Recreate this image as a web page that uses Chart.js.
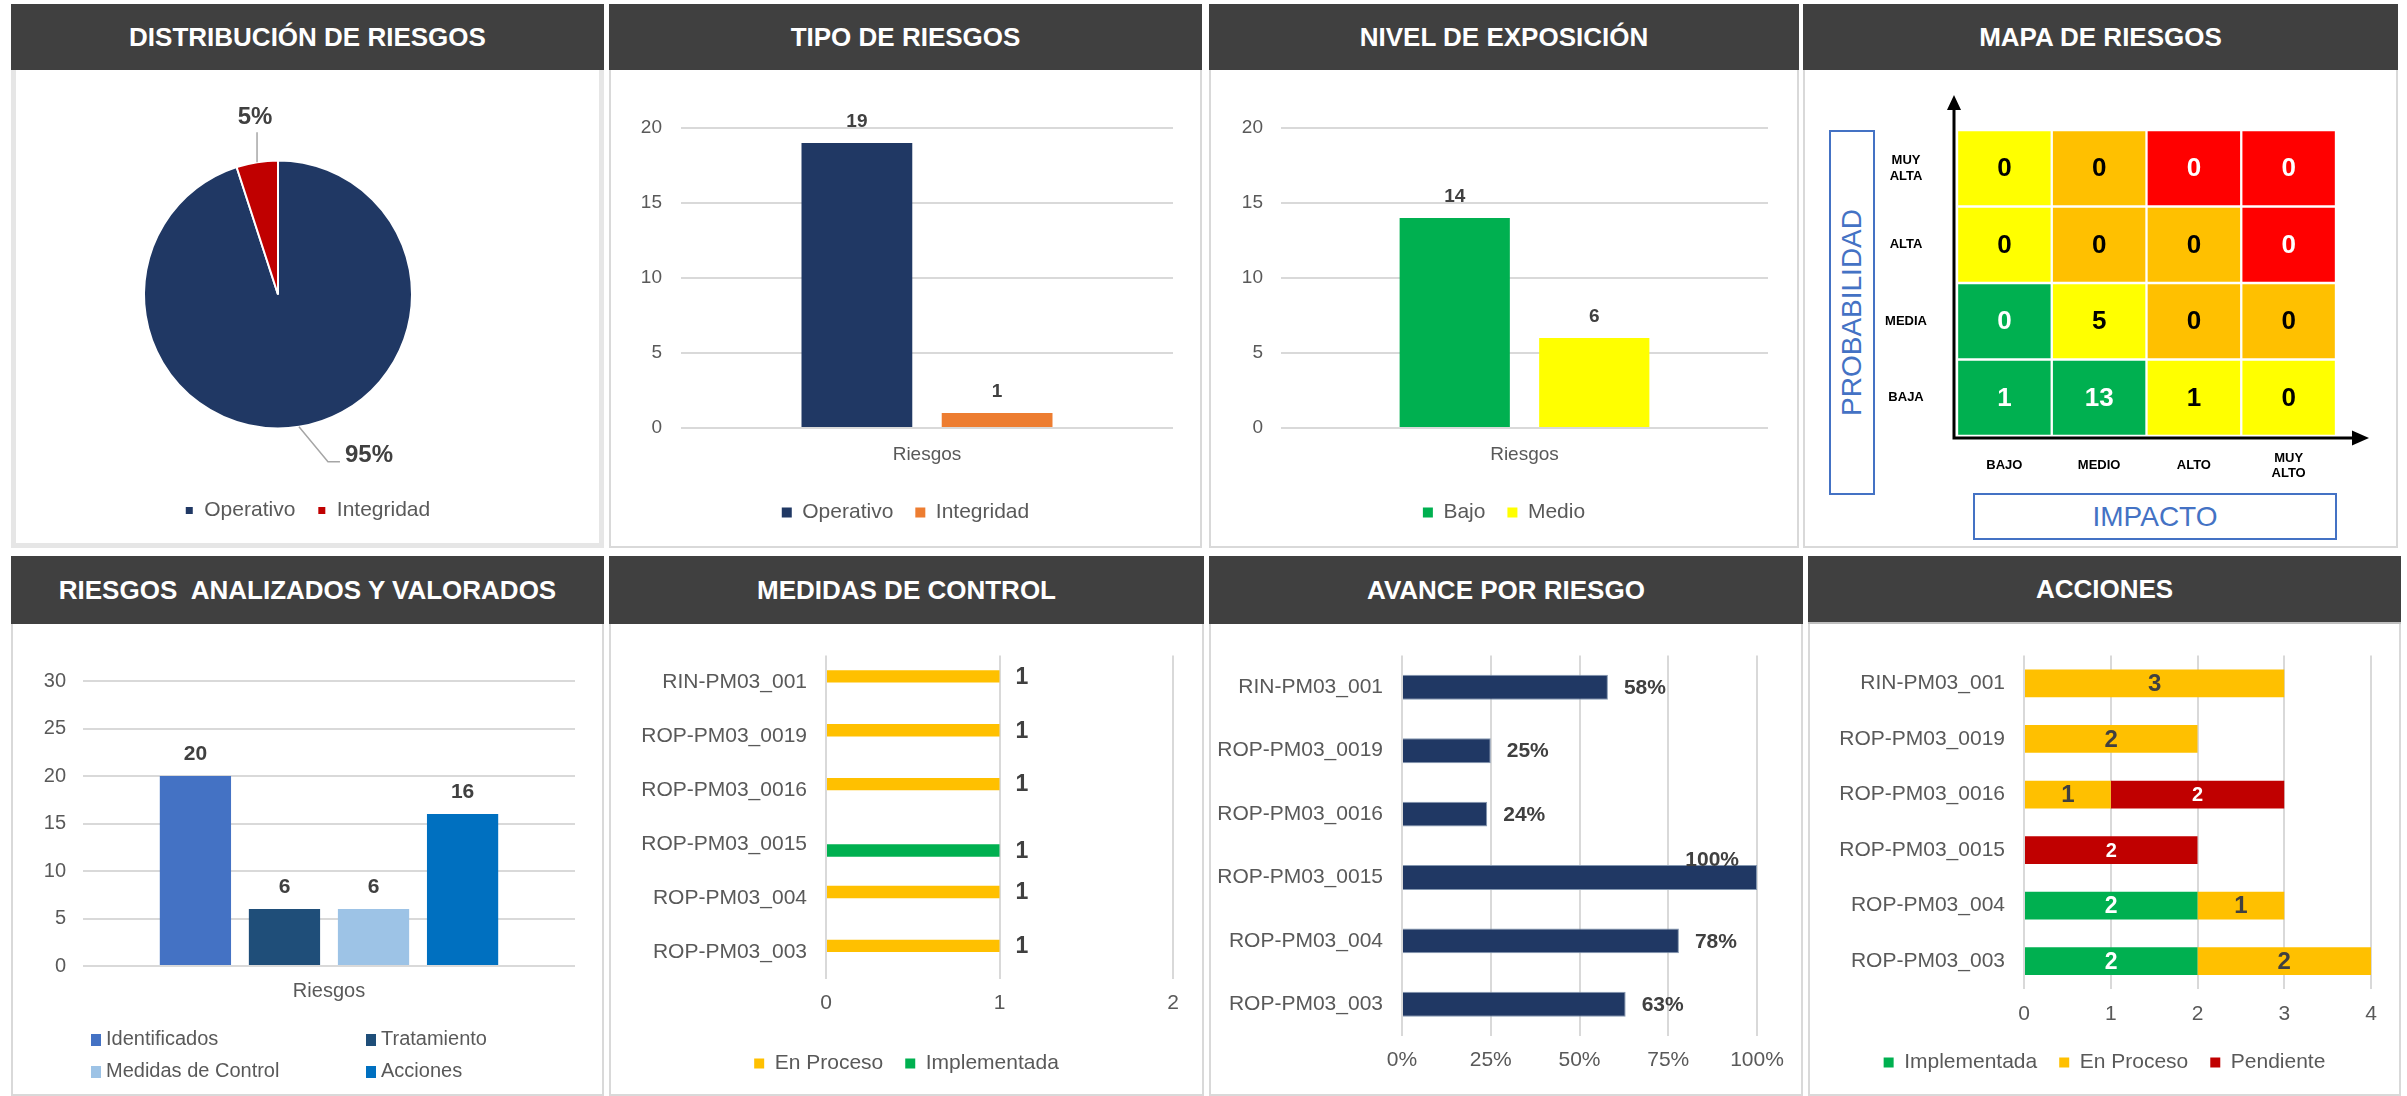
<!DOCTYPE html>
<html lang="es">
<head>
<meta charset="utf-8">
<title>Riesgos</title>
<script src="https://cdn.jsdelivr.net/npm/chart.js@4.4.1/dist/chart.umd.min.js"></script>
<style>
  html, body { margin: 0; padding: 0; }
  body { width: 2407px; height: 1096px; position: relative; overflow: hidden; background: #fff;
         font-family: "Liberation Sans", Arial, sans-serif; }
  .panel { position: absolute; }
  .head { position: absolute; left: 0; right: 0; top: 0; background: #404040; color: #fff; font-weight: bold;
          font-size: 26px; display: flex; align-items: center; justify-content: center; white-space: pre; }
  .panel canvas { position: absolute; left: 0; }
  .frame { position: absolute; left: 0; right: 0; bottom: 0; border: 2px solid #d9d9d9; border-top: none;
           box-sizing: border-box; pointer-events: none; }
  .top .head { height: 66px; }
  .top canvas, .top .frame { top: 66px; }
  .bot .head { height: 68px; }
  .bot canvas, .bot .frame { top: 68px; }
  .caja { position: absolute; border: 2px solid #4472C4; box-sizing: border-box; color: #4472C4; font-size: 28px;
          display: flex; align-items: center; justify-content: center; background: #fff; }
  .vertical { writing-mode: vertical-rl; transform: rotate(180deg); }
  .leyenda { position: absolute; display: grid; grid-template-columns: 275px auto; row-gap: 9px; font-size: 20px; color: #595959; }
  .leyenda span.m { display: inline-block; width: 10px; height: 12px; margin-right: 5px; vertical-align: -1px; }
</style>
</head>
<body>

<div class="panel top" style="left:11px; top:4px; width:593px; height:544px;">
  <div class="head">DISTRIBUCIÓN DE RIESGOS</div>
  <canvas id="cDistribucion" width="593" height="478"></canvas>
  <div class="frame" style="top:66px; border-width:5px; border-color:#e6e6e6;"></div>
</div>
<div class="panel top" style="left:609px; top:4px; width:593px; height:544px;">
  <div class="head">TIPO DE RIESGOS</div>
  <canvas id="cTipo" width="593" height="478"></canvas>
  <div class="frame"></div>
</div>
<div class="panel top" style="left:1209px; top:4px; width:590px; height:544px;">
  <div class="head">NIVEL DE EXPOSICIÓN</div>
  <canvas id="cNivel" width="590" height="478"></canvas>
  <div class="frame"></div>
</div>
<div class="panel top" style="left:1803px; top:4px; width:595px; height:544px;">
  <div class="head">MAPA DE RIESGOS</div>
  <canvas id="cMapa" width="595" height="478"></canvas>
  <div class="frame"></div>
  <div class="caja" style="left:26px; top:126px; width:46px; height:365px;"><span class="vertical">PROBABILIDAD</span></div>
  <div class="caja" style="left:170px; top:489px; width:364px; height:47px;">IMPACTO</div>
</div>

<div class="panel bot" style="left:11px; top:556px; width:593px; height:540px;">
  <div class="head">RIESGOS  ANALIZADOS Y VALORADOS</div>
  <canvas id="cAnalizados" width="593" height="472"></canvas>
  <div class="frame"></div>
  <div class="leyenda" id="leyAnalizados" style="left:80px; top:471px;"></div>
</div>
<div class="panel bot" style="left:609px; top:556px; width:595px; height:540px;">
  <div class="head">MEDIDAS DE CONTROL</div>
  <canvas id="cMedidas" width="595" height="472"></canvas>
  <div class="frame"></div>
</div>
<div class="panel bot" style="left:1209px; top:556px; width:594px; height:540px;">
  <div class="head">AVANCE POR RIESGO</div>
  <canvas id="cAvance" width="594" height="472"></canvas>
  <div class="frame"></div>
</div>
<div class="panel bot" style="left:1808px; top:556px; width:593px; height:540px;">
  <div class="head" style="border-bottom:2px solid #bfbfbf; box-sizing:border-box;">ACCIONES</div>
  <canvas id="cAcciones" width="593" height="472"></canvas>
  <div class="frame"></div>
</div>

<script>
// Distribución y tipo de riesgos
const tipos = ['Operativo', 'Integridad'];
const tiposConteo = [19, 1];

// Nivel de exposición
const niveles = ['Bajo', 'Medio'];
const nivelesConteo = [14, 6];

// Mapa de riesgos (columnas = impacto, filas = probabilidad)
const impactos = ['BAJO', 'MEDIO', 'ALTO', ['MUY', 'ALTO']];
const probabilidades = [['MUY', 'ALTA'], 'ALTA', 'MEDIA', 'BAJA'];
const mapaMuyAlta = [0, 0, 0, 0];
const mapaAlta = [0, 0, 0, 0];
const mapaMedia = [0, 5, 0, 0];
const mapaBaja = [1, 13, 1, 0];
const celdaUnidad = [1, 1, 1, 1];

// Riesgos analizados y valorados
const etapas = ['Identificados', 'Tratamiento', 'Medidas de Control', 'Acciones'];
const etapasConteo = [20, 6, 6, 16];

// Riesgos por código
const riesgos = ['RIN-PM03_001', 'ROP-PM03_0019', 'ROP-PM03_0016', 'ROP-PM03_0015', 'ROP-PM03_004', 'ROP-PM03_003'];
const medidasEnProceso = [1, 1, 1, null, 1, 1];
const medidasImplementada = [null, null, null, 1, null, null];
const avance = [58, 25, 24, 100, 78, 63];
const accImplementada = [0, 0, 0, 0, 2, 2];
const accEnProceso = [3, 2, 1, 0, 1, 2];
const accPendiente = [0, 0, 2, 2, 0, 0];

const FUENTE = '"Liberation Sans", Arial, sans-serif';
Chart.defaults.font.family = FUENTE;
Chart.defaults.color = '#595959';
Chart.defaults.animation = false;
Chart.defaults.responsive = false;
Chart.defaults.devicePixelRatio = 1;
Chart.defaults.plugins.tooltip.enabled = false;

const AZUL = '#203864', ROJO = '#C00000', NARANJA = '#ED7D31';
const VERDE = '#00B050', AMARILLO = '#FFFF00', AMBAR = '#FFC000', ROJO_VIVO = '#FF0000';
const GRID = '#d9d9d9';

// centra la leyenda en el lienzo completo
Chart.register({
    id: 'legendCentro',
    afterLayout(chart) {
        const lg = chart.legend;
        if (!lg || !lg.options.display) return;
        const dx = chart.width / 2 - (lg.left + lg.right) / 2;
        lg.left += dx;
        lg.right += dx;
    }
});

// etiquetas de valor sobre / junto / dentro de las barras
function etiquetas(cfg) {
    return {
        id: 'etiquetas',
        afterDatasetsDraw(chart) {
            const ctx = chart.ctx, area = chart.chartArea;
            ctx.save();
            chart.data.datasets.forEach((ds, di) => {
                const meta = chart.getDatasetMeta(di);
                ctx.font = 'bold ' + (ds.lblSize || cfg.size) + 'px ' + FUENTE;
                ctx.fillStyle = ds.lblColor || '#404040';
                meta.data.forEach((el, i) => {
                    const v = ds.data[i];
                    if (v === null || v === undefined || v === 0) return;
                    const txt = v + (cfg.suffix || '');
                    if (cfg.mode === 'top') {
                        ctx.textAlign = 'center';
                        ctx.textBaseline = 'alphabetic';
                        ctx.fillText(txt, el.x, el.y - cfg.offset);
                    } else if (cfg.mode === 'right') {
                        const w = ctx.measureText(txt).width;
                        if (el.x + cfg.offset + w > area.right + 4) {
                            ctx.textAlign = 'right';
                            ctx.textBaseline = 'alphabetic';
                            ctx.fillText(txt, el.x - 18, el.y - el.height / 2 + 1);
                        } else {
                            ctx.textAlign = 'left';
                            ctx.textBaseline = 'middle';
                            ctx.fillText(txt, el.x + cfg.offset, el.y + 1);
                        }
                    } else {
                        ctx.textAlign = 'center';
                        ctx.textBaseline = 'middle';
                        ctx.fillText(txt, (el.x + el.base) / 2, el.y + 1);
                    }
                });
            });
            ctx.restore();
        }
    };
}

function leyendaInferior(caja) {
    return {
        position: 'bottom',
        labels: { boxWidth: caja || 10, boxHeight: caja || 10, padding: 22, font: { size: 21 }, color: '#595959' }
    };
}

// --- Distribución de riesgos (pastel) ---
const pieGuias = {
    id: 'pieGuias',
    afterDatasetsDraw(chart) {
        const ctx = chart.ctx;
        const ds = chart.data.datasets[0];
        const total = ds.data.reduce((a, b) => a + b, 0);
        ctx.save();
        chart.getDatasetMeta(0).data.forEach((arc, i) => {
            const mid = (arc.startAngle + arc.endAngle) / 2;
            const px = arc.x + Math.cos(mid) * arc.outerRadius;
            const py = arc.y + Math.sin(mid) * arc.outerRadius;
            const g = ds.guias[i];
            ctx.strokeStyle = '#a6a6a6';
            ctx.lineWidth = 1.5;
            ctx.beginPath();
            ctx.moveTo(px, py);
            ctx.lineTo(px + g.codo[0], py + g.codo[1]);
            ctx.lineTo(px + g.fin[0], py + g.fin[1]);
            ctx.stroke();
            ctx.font = 'bold 24px ' + FUENTE;
            ctx.fillStyle = '#404040';
            ctx.textAlign = g.alinear;
            ctx.textBaseline = 'alphabetic';
            ctx.fillText(Math.round(ds.data[i] / total * 100) + '%', px + g.texto[0], py + g.texto[1]);
        });
        ctx.restore();
    }
};

new Chart(document.getElementById('cDistribucion'), {
    type: 'pie',
    data: {
        labels: tipos,
        datasets: [{
            data: tiposConteo,
            backgroundColor: [AZUL, ROJO],
            borderColor: '#fff',
            borderWidth: 2,
            radius: 134,
            guias: [
                { codo: [29, 35], fin: [41, 35], texto: [46, 35], alinear: 'left' },
                { codo: [0, -30], fin: [0, -30], texto: [-2, -38], alinear: 'center' }
            ]
        }]
    },
    options: {
        layout: { padding: { top: 41, right: 59, bottom: 17, left: 0 } },
        plugins: { legend: leyendaInferior(9) }
    },
    plugins: [pieGuias]
});

// --- columnas verticales ---
function barrasVerticales(id, nombres, valores, colores, opciones) {
    return new Chart(document.getElementById(id), {
        type: 'bar',
        data: {
            labels: ['Riesgos'],
            datasets: nombres.map((n, i) => ({ label: n, data: [valores[i]], backgroundColor: colores[i] }))
        },
        options: {
            datasets: { bar: { categoryPercentage: opciones.cp, barPercentage: opciones.bp } },
            layout: { padding: opciones.padding },
            scales: {
                x: {
                    grid: { display: false, drawTicks: false }, border: { display: false },
                    ticks: { font: { size: opciones.fuente }, padding: opciones.xPad },
                    afterFit: s => { s.height = opciones.xAlto; }
                },
                y: {
                    min: 0, max: opciones.max,
                    ticks: { stepSize: 5, font: { size: opciones.fuente }, padding: opciones.yPad },
                    grid: { color: GRID, lineWidth: 2, drawTicks: false },
                    border: { display: false },
                    afterFit: s => { s.width = 72; }
                }
            },
            plugins: { legend: opciones.leyenda }
        },
        plugins: [etiquetas({ mode: 'top', offset: 16, size: opciones.fuenteEtiqueta })]
    });
}

// Tipo de riesgos
barrasVerticales('cTipo', tipos, tiposConteo, [AZUL, NARANJA], {
    cp: 0.57, bp: 0.79, max: 20, fuente: 19, fuenteEtiqueta: 19, xPad: 15, xAlto: 52, yPad: 19,
    padding: { top: 58, right: 29, bottom: 15, left: 0 }, leyenda: leyendaInferior()
});

// Nivel de exposición
barrasVerticales('cNivel', niveles, nivelesConteo, [VERDE, AMARILLO], {
    cp: 0.573, bp: 0.79, max: 20, fuente: 19, fuenteEtiqueta: 19, xPad: 15, xAlto: 52, yPad: 18,
    padding: { top: 58, right: 31, bottom: 15, left: 0 }, leyenda: leyendaInferior()
});

// Riesgos analizados y valorados
const coloresEtapas = ['#4472C4', '#1F4E79', '#9DC3E6', '#0070C0'];
const chartAnalizados = barrasVerticales('cAnalizados', etapas, etapasConteo, coloresEtapas, {
    cp: 0.724, bp: 0.80, max: 30, fuente: 20, fuenteEtiqueta: 21, xPad: 13, xAlto: 50, yPad: 17,
    padding: { top: 57, right: 29, bottom: 80, left: 0 }, leyenda: { display: false }
});
const ley = document.getElementById('leyAnalizados');
chartAnalizados.data.datasets.forEach(ds => {
    const item = document.createElement('div');
    const marca = document.createElement('span');
    marca.className = 'm';
    marca.style.background = ds.backgroundColor;
    item.appendChild(marca);
    item.appendChild(document.createTextNode(ds.label));
    ley.appendChild(item);
});

// --- Mapa de riesgos ---
const mapaTextos = {
    id: 'mapaTextos',
    afterDatasetsDraw(chart) {
        const ctx = chart.ctx;
        ctx.save();
        ctx.font = 'bold 26px ' + FUENTE;
        ctx.textAlign = 'center';
        ctx.textBaseline = 'middle';
        chart.data.datasets.forEach((ds, di) => {
            chart.getDatasetMeta(di).data.forEach((el, i) => {
                ctx.fillStyle = ds.texto[i];
                ctx.fillText(String(ds.conteo[i]), el.x, (el.y + el.base) / 2 + 1);
            });
        });
        ctx.restore();
    }
};
const mapaFlechas = {
    id: 'mapaFlechas',
    afterDraw(chart) {
        const ctx = chart.ctx, a = chart.chartArea;
        const x0 = a.left - 3, y0 = a.bottom + 2;
        ctx.save();
        ctx.strokeStyle = '#000';
        ctx.fillStyle = '#000';
        ctx.lineWidth = 3;
        ctx.beginPath();
        ctx.moveTo(x0, y0);
        ctx.lineTo(x0, a.top - 22);
        ctx.moveTo(x0 - 1.5, y0);
        ctx.lineTo(a.right + 18, y0);
        ctx.stroke();
        ctx.beginPath();
        ctx.moveTo(x0, a.top - 35);
        ctx.lineTo(x0 - 7, a.top - 20);
        ctx.lineTo(x0 + 7, a.top - 20);
        ctx.closePath();
        ctx.fill();
        ctx.beginPath();
        ctx.moveTo(a.right + 33, y0);
        ctx.lineTo(a.right + 16, y0 - 7.5);
        ctx.lineTo(a.right + 16, y0 + 7.5);
        ctx.closePath();
        ctx.fill();
        ctx.restore();
    }
};
const filasMapa = [
    { label: 'BAJA', conteo: mapaBaja, backgroundColor: [VERDE, VERDE, AMARILLO, AMARILLO], texto: ['#fff', '#fff', '#000', '#000'] },
    { label: 'MEDIA', conteo: mapaMedia, backgroundColor: [VERDE, AMARILLO, AMBAR, AMBAR], texto: ['#fff', '#000', '#000', '#000'] },
    { label: 'ALTA', conteo: mapaAlta, backgroundColor: [AMARILLO, AMBAR, AMBAR, ROJO_VIVO], texto: ['#000', '#000', '#000', '#fff'] },
    { label: 'MUY ALTA', conteo: mapaMuyAlta, backgroundColor: [AMARILLO, AMBAR, ROJO_VIVO, ROJO_VIVO], texto: ['#000', '#000', '#fff', '#fff'] }
];
new Chart(document.getElementById('cMapa'), {
    type: 'bar',
    data: {
        labels: impactos,
        datasets: filasMapa.map(f => Object.assign({}, f, {
            data: celdaUnidad, yAxisID: 'y', borderColor: '#fff', borderWidth: 1.5, borderSkipped: false,
            barPercentage: 1, categoryPercentage: 1
        }))
    },
    options: {
        layout: { padding: { top: 60, right: 62, bottom: 52, left: 0 } },
        scales: {
            x: {
                stacked: true, grid: { display: false, drawTicks: false }, border: { display: false },
                ticks: { font: { size: 13, weight: 'bold' }, color: '#000', padding: 22, crossAlign: 'center', maxRotation: 0, autoSkip: false },
                afterFit: s => { s.height = 60; }
            },
            y: { stacked: true, display: false, min: 0, max: 4 },
            filas: {
                type: 'category', position: 'left', labels: probabilidades, offset: true,
                grid: { display: false, drawTicks: false }, border: { display: false },
                ticks: { font: { size: 13, weight: 'bold' }, color: '#000', padding: 30, crossAlign: 'center', autoSkip: false },
                afterFit: s => { s.width = 154; }
            }
        },
        plugins: { legend: { display: false } }
    },
    plugins: [mapaTextos, mapaFlechas]
});

// --- barras horizontales por riesgo ---
function ejeRiesgos(ancho) {
    return {
        grid: { display: false, drawTicks: false }, border: { display: false },
        ticks: { font: { size: 21 }, padding: 19, color: '#595959', autoSkip: false },
        afterFit: s => { s.width = ancho; }
    };
}

// Medidas de control
new Chart(document.getElementById('cMedidas'), {
    type: 'bar',
    data: {
        labels: riesgos,
        datasets: [
            { label: 'En Proceso', data: medidasEnProceso, backgroundColor: AMBAR, lblSize: 23 },
            { label: 'Implementada', data: medidasImplementada, backgroundColor: VERDE, lblSize: 23 }
        ]
    },
    options: {
        indexAxis: 'y',
        datasets: { bar: { categoryPercentage: 0.46, barPercentage: 1 } },
        layout: { padding: { top: 20, right: 31, bottom: 12, left: 0 } },
        scales: {
            x: {
                min: 0, max: 2,
                ticks: { stepSize: 1, font: { size: 21 }, padding: 12 },
                grid: { color: GRID, lineWidth: 2, drawTicks: false }, border: { display: false },
                afterFit: s => { s.height = 52; }
            },
            y: ejeRiesgos(217)
        },
        plugins: { legend: leyendaInferior() }
    },
    plugins: [etiquetas({ mode: 'right', offset: 16, size: 23 })]
});

// Avance por riesgo
new Chart(document.getElementById('cAvance'), {
    type: 'bar',
    data: {
        labels: riesgos,
        datasets: [{ label: 'Avance', data: avance, backgroundColor: AZUL, borderColor: '#8497b0', borderWidth: 1 }]
    },
    options: {
        indexAxis: 'y',
        datasets: { bar: { categoryPercentage: 0.8, barPercentage: 0.49 } },
        layout: { padding: { top: 26, right: 46, bottom: 10, left: 0 } },
        scales: {
            x: {
                min: 0, max: 100,
                ticks: { stepSize: 25, font: { size: 21 }, padding: 12, callback: v => v + '%' },
                grid: { color: GRID, lineWidth: 2, drawTicks: false }, border: { display: false },
                afterFit: s => { s.height = 50; }
            },
            y: ejeRiesgos(193)
        },
        plugins: { legend: { display: false } }
    },
    plugins: [etiquetas({ mode: 'right', offset: 16, size: 21, suffix: '%' })]
});

// Acciones
new Chart(document.getElementById('cAcciones'), {
    type: 'bar',
    data: {
        labels: riesgos,
        datasets: [
            { label: 'Implementada', data: accImplementada, backgroundColor: VERDE, lblColor: '#fff', lblSize: 23 },
            { label: 'En Proceso', data: accEnProceso, backgroundColor: AMBAR, lblColor: '#404040', lblSize: 24 },
            { label: 'Pendiente', data: accPendiente, backgroundColor: ROJO, lblColor: '#fff', lblSize: 20 }
        ]
    },
    options: {
        indexAxis: 'y',
        datasets: { bar: { categoryPercentage: 0.8, barPercentage: 0.625 } },
        layout: { padding: { top: 7, right: 30, bottom: 13, left: 0 } },
        scales: {
            x: {
                stacked: true, min: 0, max: 4,
                ticks: { stepSize: 1, font: { size: 21 }, padding: 13 },
                grid: { color: GRID, lineWidth: 2, drawTicks: false }, border: { display: false },
                afterFit: s => { s.height = 41; }
            },
            y: Object.assign(ejeRiesgos(216), { stacked: true })
        },
        plugins: { legend: leyendaInferior() }
    },
    plugins: [etiquetas({ mode: 'center', size: 24 })]
});
</script>
</body>
</html>
